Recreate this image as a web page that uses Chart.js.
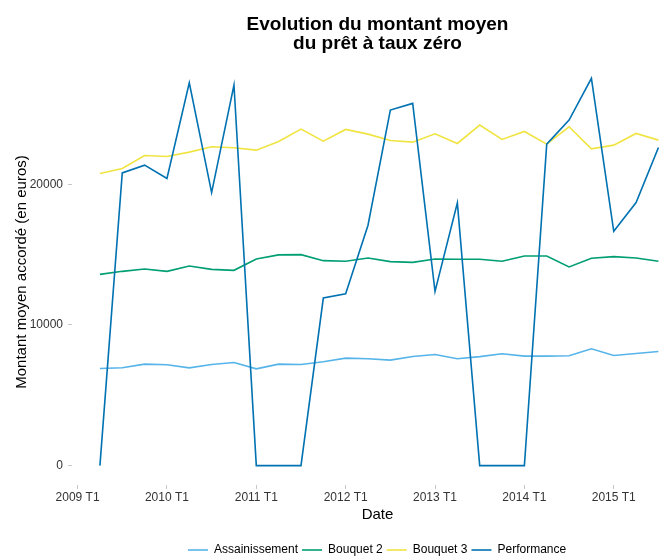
<!DOCTYPE html>
<html><head><meta charset="utf-8">
<script src="https://cdn.jsdelivr.net/npm/chart.js@4"></script>
<style>html,body{margin:0;padding:0;background:#fff}canvas{display:block}</style>
</head><body>
<canvas id="c" width="659" height="557"></canvas>
<script>
const quarters = ['2009 T2','2009 T3','2009 T4','2010 T1','2010 T2','2010 T3','2010 T4','2011 T1','2011 T2','2011 T3','2011 T4','2012 T1','2012 T2','2012 T3','2012 T4','2013 T1','2013 T2','2013 T3','2013 T4','2014 T1','2014 T2','2014 T3','2014 T4','2015 T1','2015 T2','2015 T3'];
const assainissement = [6904,6951,7212,7165,6951,7189,7331,6880,7212,7189,7378,7639,7591,7497,7758,7900,7591,7745,7947,7781,7781,7805,8304,7829,7972,8114];
const bouquet2 = [13594,13808,13974,13808,14187,13950,13879,14685,14980,14994,14567,14520,14757,14496,14448,14685,14662,14662,14520,14899,14899,14116,14733,14852,14757,14520];
const bouquet3 = [20759,21115,22040,21970,22278,22657,22586,22420,23040,23915,23060,23891,23559,23108,22989,23582,22894,24199,23179,23748,22847,24080,22515,22776,23606,23132];
const performance = [0,20804,21352,20403,27210,19407,27046,0,0,0,11910,12218,17082,25267,25742,12384,18671,0,0,0,22847,24555,27521,16655,18695,22610];
const seriesNames = ['Assainissement','Bouquet 2','Bouquet 3','Performance'];
const xTickLabels = ['2009 T1','2010 T1','2011 T1','2012 T1','2013 T1','2014 T1','2015 T1'];
const yTicks = [0, 10000, 20000];

const FONT = "'Liberation Sans', Arial, Helvetica, sans-serif";
function qIndex(s){ const p = s.split(' T'); return (parseInt(p[0]) - 2009) * 4 + (parseInt(p[1]) - 1); }
function pts(arr){ return arr.map((v,i)=>({x:qIndex(quarters[i]), y:v})); }
const tickMap = {}; xTickLabels.forEach(l => tickMap[qIndex(l)] = l);

const colors = ['#56B4E9','#009E73','#F0E442','#0072B2'];
const values = [assainissement, bouquet2, bouquet3, performance];

const PANEL_LEFT = 72, PANEL_RIGHT = 683;
const layoutFix = {
  id: 'layoutFix',
  afterLayout(chart) {
    const ca = chart.chartArea;
    ca.right = PANEL_RIGHT; ca.width = PANEL_RIGHT - ca.left;
    const xs = chart.scales.x;
    xs.right = PANEL_RIGHT; xs.width = PANEL_RIGHT - xs.left; xs.configure();
    const t = chart.titleBlock;
    t.left = ca.left; t.right = PANEL_RIGHT; t.width = PANEL_RIGHT - ca.left;
    const lg = chart.legend;
    const h = lg.height, pad = lg.options.labels.padding;
    lg.left = 188 - pad; lg.right = 720; lg.width = lg.right - lg.left;
    lg.top = 544 - pad; lg.bottom = lg.top + h;
  }
};

new Chart(document.getElementById('c'), {
  type: 'line',
  data: {
    datasets: seriesNames.map((n,i)=>({
      label: n, data: pts(values[i]), borderColor: colors[i], backgroundColor: colors[i],
      borderWidth: 1.6, pointRadius: 0, tension: 0, fill: false, order: 4 - i
    }))
  },
  options: {
    responsive: false, animation: false,
    layout: { padding: { left: 0, right: 0, top: 0, bottom: 7.6 } },
    plugins: {
      title: { display: true, text: ['Evolution du montant moyen','du prêt à taux zéro'],
        color: '#000', font: { family: FONT, size: 19, weight: 'bold', lineHeight: 1.0 },
        padding: { top: 15.5, bottom: 5.5 } },
      legend: { position: 'bottom', align: 'start',
        labels: { usePointStyle: true, pointStyle: 'line', pointStyleWidth: 20, boxHeight: 12,
          padding: 4, color: '#000', font: { family: FONT, size: 12 },
          sort: (a,b) => a.datasetIndex - b.datasetIndex } },
      tooltip: { enabled: false }
    },
    scales: {
      x: { type: 'linear', min: -0.25, max: 27.1,
        afterBuildTicks: s => { s.ticks = xTickLabels.map(l => ({ value: qIndex(l) })); },
        ticks: { autoSkip: false, maxRotation: 0, padding: 1, color: '#333',
          font: { family: FONT, size: 12 }, callback: v => tickMap[v] || '' },
        grid: { display: true, drawOnChartArea: false, drawTicks: true, tickLength: 4, color: '#c8c8c8' },
        border: { display: false },
        title: { display: true, text: 'Date', color: '#000', font: { family: FONT, size: 15 }, padding: { top: 0, bottom: 0 } }
      },
      y: { type: 'linear', min: -1376, max: 28897,
        afterBuildTicks: s => { s.ticks = yTicks.map(v => ({ value: v })); },
        afterFit: s => { s.width = PANEL_LEFT; },
        ticks: { padding: 5, color: '#333', font: { family: FONT, size: 12 }, callback: v => String(v) },
        grid: { display: true, drawOnChartArea: false, drawTicks: true, tickLength: 4, color: '#c8c8c8' },
        border: { display: false },
        title: { display: true, text: 'Montant moyen accordé (en euros)', color: '#000',
          font: { family: FONT, size: 15 }, padding: { top: 13, bottom: 0 } }
      }
    }
  },
  plugins: [layoutFix]
});
</script>
</body></html>
